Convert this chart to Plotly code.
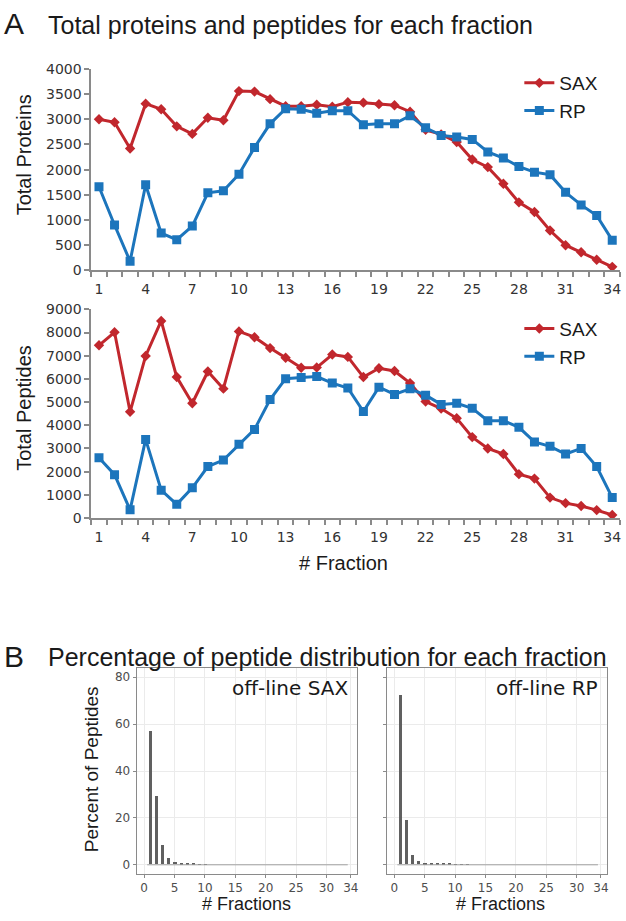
import plotly.graph_objects as go

# ---------------- data ----------------
fractions = list(range(1, 35))

sax_proteins = [3000, 2940, 2420, 3310, 3200, 2860, 2710, 3030, 2980, 3560,
                3550, 3400, 3260, 3260, 3290, 3250, 3340, 3330, 3300, 3280,
                3150, 2790, 2700, 2550, 2200, 2050, 1720, 1350, 1160, 790,
                500, 360, 210, 70]
rp_proteins = [1660, 900, 180, 1700, 740, 610, 880, 1540, 1580, 1910,
               2440, 2910, 3210, 3200, 3120, 3170, 3170, 2890, 2910, 2910,
               3070, 2830, 2680, 2650, 2600, 2350, 2230, 2060, 1950, 1900,
               1550, 1300, 1090, 600]

sax_peptides = [7450, 8010, 4580, 6990, 8500, 6080, 4950, 6320, 5580, 8050,
                7800, 7330, 6910, 6480, 6490, 7050, 6950, 6080, 6460, 6340,
                5820, 5020, 4720, 4300, 3490, 3000, 2760, 1890, 1700, 880,
                640, 520, 340, 130]
rp_peptides = [2600, 1870, 350, 3390, 1200, 590, 1300, 2220, 2500, 3180,
               3820, 5110, 6010, 6060, 6100, 5820, 5610, 4590, 5640, 5330,
               5570, 5300, 4900, 4950, 4730, 4200, 4200, 3910, 3280, 3090,
               2760, 3000, 2220, 880]

x_tick_vals = [1, 4, 7, 10, 13, 16, 19, 22, 25, 28, 31, 34]

pct_fractions = list(range(1, 34))
pct_sax = [57, 29, 8.1, 2.7, 1.1, 0.7, 0.45, 0.3, 0.18, 0.1] + [0] * 23
pct_rp = [72.4, 19, 4.0, 1.5, 0.8, 0.5, 0.35, 0.25, 0.2, 0.15, 0.1, 0.08] + [0] * 21
pct_x_ticks = [0, 5, 10, 15, 20, 25, 30, 34]
pct_y_ticks = [0, 20, 40, 60, 80]

series_names = ["SAX", "RP"]

# ---------------- styles ----------------
W, H = 626, 921
RED = "#C1272D"
BLUE = "#1C75BC"
AXIS_GRAY = "#8a8a8a"
FONT = "Liberation Sans, Arial, sans-serif"
TICKFONT = "DejaVu Sans, Verdana, sans-serif"


def px(xp):
    return xp / W


def py(yp):
    return 1 - yp / H


fig = go.Figure()

# line charts
for yvals, name, color, symbol, msize, xa, ya, leg in [
    (sax_proteins, series_names[0], RED, "diamond", 8, "x", "y", "legend"),
    (rp_proteins, series_names[1], BLUE, "square", 9, "x", "y", "legend"),
    (sax_peptides, series_names[0], RED, "diamond", 8, "x2", "y2", "legend2"),
    (rp_peptides, series_names[1], BLUE, "square", 9, "x2", "y2", "legend2"),
]:
    fig.add_trace(go.Scatter(
        x=fractions, y=yvals, name=name, mode="lines+markers",
        line=dict(color=color, width=3),
        marker=dict(symbol=symbol, size=msize, color=color),
        xaxis=xa, yaxis=ya, legend=leg, showlegend=True,
    ))

# bar charts
for vals, xa, ya in [(pct_sax, "x3", "y3"), (pct_rp, "x4", "y4")]:
    fig.add_trace(go.Bar(
        x=pct_fractions, y=vals, width=0.5, marker=dict(color="#606060", line=dict(width=0)),
        xaxis=xa, yaxis=ya, showlegend=False,
    ))

line_x_common = dict(
    range=[0.5, 34.5], domain=[px(91.5), px(622)],
    showline=True, linecolor=AXIS_GRAY, linewidth=1.5,
    tickmode="array", tickvals=x_tick_vals, ticktext=[str(v) for v in x_tick_vals],
    ticks="outside", ticklen=5, tickcolor="rgba(0,0,0,0)",
    tickfont=dict(family=TICKFONT, size=14, color="#333"),
    minor=dict(ticks="outside", tick0=0.5, dtick=1, ticklen=5, tickcolor=AXIS_GRAY, tickwidth=1.5, showgrid=False),
    showgrid=False, zeroline=False, fixedrange=True,
)
line_y_common = dict(
    showline=True, linecolor=AXIS_GRAY, linewidth=1.5,
    ticks="outside", ticklen=5, tickcolor=AXIS_GRAY, tickwidth=1.5,
    tickfont=dict(family=TICKFONT, size=14, color="#333"),
    showgrid=False, zeroline=False,
)

bar_x_common = dict(
    range=[-1.25, 35.0], tickmode="array", tickvals=pct_x_ticks,
    ticks="outside", ticklen=3, tickcolor="#8a8a8a",
    tickfont=dict(family=TICKFONT, size=12, color="#4d4d4d"),
    showgrid=True, gridcolor="#ebebeb", gridwidth=1,
    showline=True, mirror=True, linecolor="#8a8a8a", linewidth=1,
    zeroline=False,
)
bar_y_common = dict(
    range=[-3.8, 83.8], tickmode="array", tickvals=pct_y_ticks,
    domain=[py(881), py(672)],
    ticks="outside", ticklen=3, tickcolor="#8a8a8a",
    tickfont=dict(family=TICKFONT, size=12, color="#4d4d4d"),
    showgrid=True, gridcolor="#ebebeb", gridwidth=1,
    showline=True, mirror=True, linecolor="#8a8a8a", linewidth=1,
    zeroline=False,
)

fig.update_layout(
    width=W, height=H, margin=dict(l=0, r=0, t=0, b=0),
    paper_bgcolor="white", plot_bgcolor="white",
    font=dict(family=FONT, color="#1a1a1a"),
    bargap=0,
    xaxis=dict(anchor="y", **line_x_common),
    yaxis=dict(anchor="x", range=[0, 4000], dtick=500, domain=[py(267), py(62)], **line_y_common),
    xaxis2=dict(anchor="y2", **line_x_common),
    yaxis2=dict(anchor="x2", range=[0, 9000], dtick=1000, domain=[py(519), py(306.7)], **line_y_common),
    xaxis3=dict(anchor="y3", domain=[px(137), px(358)], **bar_x_common),
    yaxis3=dict(anchor="x3", **bar_y_common),
    xaxis4=dict(anchor="y4", domain=[px(388), px(609)], **bar_x_common),
    yaxis4=dict(anchor="x4", showticklabels=False, **bar_y_common),
    legend=dict(x=px(521), y=py(57), xanchor="left", yanchor="top",
                font=dict(family=FONT, size=19, color="#1a1a1a"),
                bgcolor="rgba(0,0,0,0)", tracegroupgap=0, itemwidth=30),
    legend2=dict(x=px(521), y=py(307), xanchor="left", yanchor="top",
                 font=dict(family=FONT, size=19, color="#1a1a1a"),
                 bgcolor="rgba(0,0,0,0)", tracegroupgap=0, itemwidth=30),
)

# baseline segment of the histograms
for xa, ya in [("x3", "y3"), ("x4", "y4")]:
    fig.add_shape(type="line", xref=xa, yref=ya,
                  x0=pct_fractions[0] - 0.5, x1=pct_fractions[-1] + 0.5, y0=0, y1=0,
                  line=dict(color="#a0a0a0", width=1))

ann = []


def add_text(text, xp, yp, size, xanchor="center", angle=0, family=FONT, color="#1a1a1a"):
    ann.append(dict(text=text, x=px(xp), y=py(yp), xref="paper", yref="paper",
                    xanchor=xanchor, yanchor="middle", showarrow=False, textangle=angle,
                    font=dict(family=family, size=size, color=color)))


add_text("A", 2, 16, 30, xanchor="left")
add_text("Total proteins and peptides for each fraction", 46, 17, 25, xanchor="left")
add_text("B", 2, 660, 30, xanchor="left")
add_text("Percentage of peptide distribution for each fraction", 46, 660, 25, xanchor="left")
add_text("Total Proteins", 24, 149, 20, angle=-90)
add_text("Total Peptides", 24, 407, 20, angle=-90)
add_text("# Fraction", 345, 565, 20)
add_text("Percent of Peptides", 92, 775, 19, angle=-90)
add_text("# Fractions", 247, 912, 18)
add_text("# Fractions", 502, 912, 18)
add_text("off-line SAX", 351, 692, 20, xanchor="right", family=TICKFONT)
add_text("off-line RP", 602, 692, 20, xanchor="right", family=TICKFONT)

fig.update_layout(annotations=ann)

fig.write_html(
    "out.html",
    config={"displayModeBar": False},
    post_script="document.body.style.margin='0';document.body.style.padding='0';"
                "document.body.style.overflow='hidden';",
)
